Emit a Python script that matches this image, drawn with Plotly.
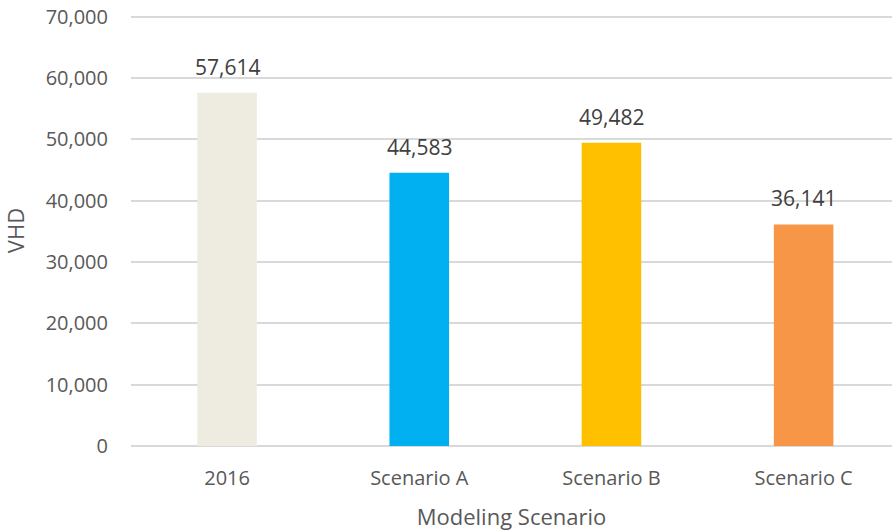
import plotly.graph_objects as go

categories = ["2016", "Scenario A", "Scenario B", "Scenario C"]
vhd = [57614, 44583, 49482, 36141]
bar_colors = ["#EEECE1", "#00B0F0", "#FFC000", "#F79646"]
y_ticks = [0, 10000, 20000, 30000, 40000, 50000, 60000, 70000]

fig = go.Figure()
fig.add_trace(
    go.Bar(
        x=categories,
        y=vhd,
        marker=dict(color=bar_colors, line=dict(width=0)),
        width=0.31,
        hoverinfo="x+y",
    )
)

# data labels above each bar (x as category index so "2016" isn't read as a number)
for i, v in enumerate(vhd):
    fig.add_annotation(
        x=i, y=v, text=f"{v:,}", showarrow=False,
        yanchor="bottom", yshift=10,
        font=dict(family="Open Sans", size=21, color="#404040"),
    )

fig.update_layout(
    width=892,
    height=531,
    margin=dict(l=131, r=0, t=15, b=85),
    paper_bgcolor="white",
    plot_bgcolor="white",
    showlegend=False,
    font=dict(family="Open Sans", size=20, color="#595959"),
    xaxis=dict(
        type="category",
        range=[-0.5, 3.46],
        title=dict(text="Modeling Scenario", font=dict(size=22), standoff=20),
        showgrid=False,
        showline=False,
        ticks="",
        ticklabelstandoff=18,
        automargin=False,
    ),
    yaxis=dict(
        range=[0, 70300],
        tickvals=y_ticks,
        tickformat=",",
        title=dict(text="VHD", font=dict(size=22), standoff=16),
        gridcolor="#D9D9D9",
        gridwidth=1.5,
        zeroline=True,
        zerolinecolor="#D9D9D9",
        zerolinewidth=1.5,
        ticks="",
        ticklabelstandoff=22,
        automargin=False,
    ),
)

# drop the default page margin so the figure sits at the window's corner
fig.write_html(
    "out.html",
    config={"displayModeBar": False},
    post_script="document.body.style.margin='0';",
)
